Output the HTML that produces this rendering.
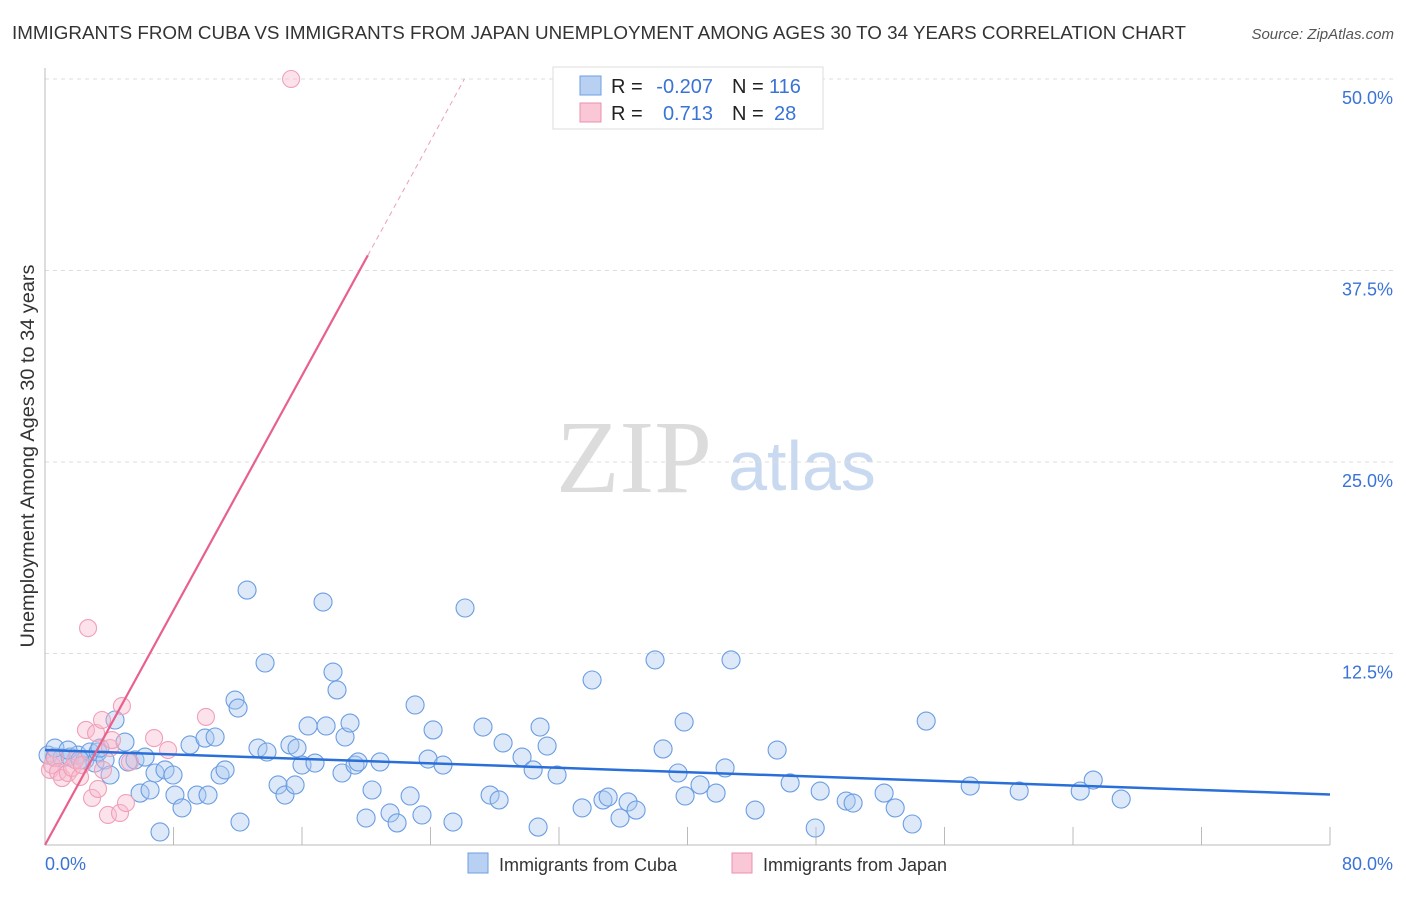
<!DOCTYPE html>
<html><head><meta charset="utf-8"><style>
body{margin:0;background:#fff;font-family:"Liberation Sans",sans-serif;}
svg text{font-family:"Liberation Sans",sans-serif;}
svg text.serif{font-family:"Liberation Serif",serif;}
</style></head><body>
<svg id="chart" width="1406" height="892" xmlns="http://www.w3.org/2000/svg">
<text x="12" y="39" font-size="18.6" fill="#333" textLength="1174" lengthAdjust="spacingAndGlyphs">IMMIGRANTS FROM CUBA VS IMMIGRANTS FROM JAPAN UNEMPLOYMENT AMONG AGES 30 TO 34 YEARS CORRELATION CHART</text>
<text x="1394" y="39" font-size="15" fill="#555" text-anchor="end" font-style="italic">Source: ZipAtlas.com</text>
<text transform="translate(34,456) rotate(-90)" font-size="19" fill="#333" text-anchor="middle" textLength="383" lengthAdjust="spacingAndGlyphs">Unemployment Among Ages 30 to 34 years</text>
<g>
<text class="serif" x="634" y="492" font-size="104" fill="#dcdcdc" text-anchor="middle">ZIP</text>
<text x="802" y="490" font-size="70" fill="#c9d9f0" text-anchor="middle">atlas</text>
</g>
<g id="grid"></g><g id="axes"></g><g id="pts"></g><g id="lines"></g>
<g>
<rect x="553" y="67" width="270" height="62" fill="#fff" stroke="#ddd"/>
<rect x="580" y="76" width="21" height="19" fill="#b8d1f3" stroke="#6e9fe0"/>
<rect x="580" y="103" width="21" height="19" fill="#f9c7d6" stroke="#ec8fab"/>
<text x="611" y="93" font-size="20" fill="#222">R = </text><text x="713" y="93" font-size="20" fill="#3a73d6" text-anchor="end">-0.207</text>
<text x="732" y="93" font-size="20" fill="#222">N = </text><text x="769" y="93" font-size="20" fill="#3a73d6">116</text>
<text x="611" y="120" font-size="20" fill="#222">R = </text><text x="713" y="120" font-size="20" fill="#3a73d6" text-anchor="end">0.713</text>
<text x="732" y="120" font-size="20" fill="#222">N = </text><text x="774" y="120" font-size="20" fill="#3a73d6">28</text>
</g>
<g>
<rect x="468" y="853" width="20" height="20" fill="#b8d1f3" stroke="#6e9fe0"/>
<text x="499" y="871" font-size="18" fill="#333">Immigrants from Cuba</text>
<rect x="732" y="853" width="20" height="20" fill="#f9c7d6" stroke="#ec8fab"/>
<text x="763" y="871" font-size="18" fill="#333">Immigrants from Japan</text>
</g>
</svg>
<script>
const blueX=[0.19,0.62,1.06,1.56,2.05,2.49,2.80,3.11,3.30,3.74,4.05,4.36,4.98,5.17,5.60,5.92,6.23,6.54,6.85,7.16,7.47,8.09,7.97,8.53,9.03,9.46,9.96,10.15,10.59,10.90,11.21,11.83,12.02,12.14,12.58,13.26,13.70,13.82,14.51,14.94,15.25,15.69,15.57,16.00,16.38,16.81,17.31,17.50,17.93,18.18,18.49,18.68,18.99,19.30,19.49,19.99,20.36,20.86,21.48,21.92,22.73,23.04,23.47,23.85,24.16,24.78,25.40,26.15,27.27,27.71,28.27,28.52,29.70,30.39,30.70,30.82,31.26,31.88,33.44,34.06,34.74,35.06,35.80,36.30,36.80,37.98,38.48,39.41,39.85,39.79,40.78,41.78,42.34,42.71,44.21,45.58,46.39,47.95,48.26,49.88,50.31,52.24,52.93,53.99,54.86,57.60,60.65,64.45,65.26,67.00,0.62,1.43,2.18,3.42];
const blueY=[5.87,5.74,5.68,5.74,5.87,5.55,6.07,5.35,6.07,5.55,4.57,8.16,6.72,5.42,5.55,3.39,5.74,3.59,4.70,0.85,4.90,3.26,4.57,2.42,6.53,3.26,6.98,3.26,7.05,4.57,4.90,9.46,8.94,1.50,16.64,6.33,11.88,6.07,3.92,3.26,6.53,6.33,3.92,5.22,7.77,5.35,15.86,7.77,11.29,10.12,4.70,7.05,7.96,5.22,5.42,1.76,3.59,5.42,2.09,1.44,3.20,9.14,1.96,5.61,7.51,5.22,1.50,15.47,7.70,3.26,2.94,6.66,5.74,4.90,1.17,7.70,6.46,4.57,2.42,10.77,2.94,3.13,1.76,2.81,2.28,12.08,6.27,4.70,3.20,8.03,3.92,3.39,5.03,12.08,2.28,6.20,4.05,1.11,3.52,2.87,2.74,3.39,2.42,1.37,8.09,3.85,3.52,3.52,4.24,3.00,6.33,6.20,5.55,6.33];
const pinkX=[0.31,0.44,0.62,0.81,1.06,1.43,1.68,1.87,2.18,2.30,2.68,2.55,2.93,3.18,3.30,3.55,3.61,3.92,4.05,4.17,4.67,4.79,5.04,5.29,6.79,7.66,10.02,15.32];
const pinkY=[4.90,5.22,5.68,4.77,4.37,4.70,5.03,5.55,4.44,5.22,14.16,7.51,3.07,7.31,3.66,8.16,4.90,1.96,6.33,6.85,2.09,9.07,2.74,5.42,6.98,6.20,8.36,50.0];
const yTicks=[12.5,25.0,37.5,50.0];
const xTicks=[0,8,16,24,32,40,48,56,64,72,80];
const blueTrend=[6.2,3.3];
const pinkSlope=1.915, pinkSolidEnd=20.1;
const NS='http://www.w3.org/2000/svg';
const X=v=>45+v*(1285/80), Y=v=>845-v*15.32;
function mk(tag,attrs,parent){const e=document.createElementNS(NS,tag);for(const k in attrs)e.setAttribute(k,attrs[k]);document.getElementById(parent).appendChild(e);return e;}
yTicks.forEach(t=>{
 const l=mk('line',{x1:45,x2:1393,y1:Y(t),y2:Y(t),stroke:'#ddd','stroke-dasharray':'4,4'},'grid');
 
 
 const tx=mk('text',{x:1393,y:Y(t)+25,'font-size':18,fill:'#3a73d6','text-anchor':'end'},'grid');
 tx.textContent=t.toFixed(1)+'%';
 
 
});
const ax=mk('line',{x1:45,x2:1330,y1:845,y2:845,stroke:'#bbb'},'axes');


const ay=mk('line',{x1:45,x2:45,y1:68,y2:845,stroke:'#bbb'},'axes');


xTicks.forEach(t=>{
 const l=mk('line',{x1:X(t),x2:X(t),y1:827,y2:845,stroke:'#bbb'},'axes');
 
 
});
[[0,'0.0%',45,'start'],[80,'80.0%',1393,'end']].forEach(a=>{
 const tx=mk('text',{x:a[2],y:870,'font-size':18,fill:'#3a73d6','text-anchor':a[3]},'axes');
 tx.textContent=a[1];
 
 
});
blueX.forEach((v,i)=>{
 const c=mk('circle',{cx:X(v),cy:Y(blueY[i]),r:9,fill:'rgba(170,200,240,0.4)',stroke:'#6a9de3','stroke-width':1.1},'pts');
 
 
});
pinkX.forEach((v,i)=>{
 const c=mk('circle',{cx:X(v),cy:Y(pinkY[i]),r:8.5,fill:'rgba(247,185,205,0.4)',stroke:'#f0a0b8','stroke-width':1.1},'pts');
 
 
});
const bl=mk('line',{x1:X(0),y1:Y(blueTrend[0]),x2:X(80),y2:Y(blueTrend[1]),stroke:'#2a6fd8','stroke-width':2.5},'lines');


const pl=mk('line',{x1:X(0),y1:Y(0),x2:X(pinkSolidEnd),y2:Y(pinkSolidEnd*pinkSlope),stroke:'#e8608c','stroke-width':2.2},'lines');


const pe=50/pinkSlope;
const pd=mk('line',{x1:X(pinkSolidEnd),y1:Y(pinkSolidEnd*pinkSlope),x2:X(pe),y2:Y(50),stroke:'#eaa0b8','stroke-width':1,'stroke-dasharray':'5,4'},'lines');


</script>
</body></html>
